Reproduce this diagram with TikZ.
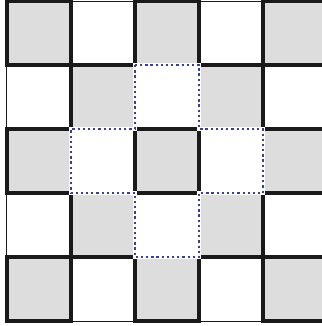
\documentclass[tikz,border=0pt]{standalone}
\usepackage{xcolor}
\usepackage{tikz}
\definecolor{CBGray}  {HTML}{DDDDDD}
\definecolor{CBLine}  {HTML}{1A1A1A}
\definecolor{CBBlue}  {HTML}{3C3C9C}
\tikzset{
  darkcell/.style={fill=CBGray},
  cellrim/.style={draw=CBLine,line width=1.6pt},
  thingrid/.style={draw=CBLine,line width=0.45pt},
  plusrim/.style={draw=CBBlue,line width=0.9pt,dash pattern=on 1pt off 1.3pt},
  plusgap/.style={draw=white,line width=2pt}
}
\begin{document}
\begin{tikzpicture}
    \useasboundingbox (-0.109,-0.078) rectangle (4.922,5.016);
    % shaded squares of the board
    \foreach \c in {0,...,4}
      \foreach \r in {0,...,4}{
        \pgfmathtruncatemacro{\cellpar}{mod(\c+\r,2)}
        \ifnum\cellpar=0
          \fill[darkcell] (\c,\r) rectangle ++(1,1);
        \fi
      }
    \draw[thingrid] (0,0) grid (5,5);
    % heavy rims round the shaded squares
    \foreach \c in {0,...,4}
      \foreach \r in {0,...,4}{
        \pgfmathtruncatemacro{\cellpar}{mod(\c+\r,2)}
        \ifnum\cellpar=0
          \draw[cellrim] (\c,\r) rectangle ++(1,1);
        \fi
      }
    % dotted outline of the cross
    \path[plusgap] (2,4) -- (3,4) -- (3,3) -- (4,3) -- (4,2) -- (3,2)
      -- (3,1) -- (2,1) -- (2,2) -- (1,2) -- (1,3) -- (2,3) -- cycle;
    \path[plusrim] (2,4) -- (3,4) -- (3,3) -- (4,3) -- (4,2) -- (3,2)
      -- (3,1) -- (2,1) -- (2,2) -- (1,2) -- (1,3) -- (2,3) -- cycle;
  \end{tikzpicture}
\end{document}
